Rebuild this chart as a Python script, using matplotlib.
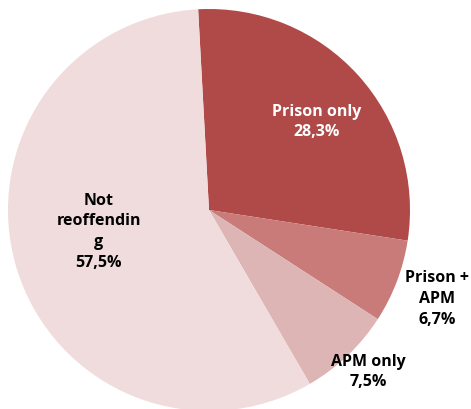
import numpy as np
import matplotlib.pyplot as plt

labels = ['Prison only', 'Prison +\nAPM', 'APM only', 'Not\nreoffendin\ng']
shares = [28.3, 6.7, 7.5, 57.5]
colors = ['#B04A48', '#C97B7A', '#DEB5B5', '#F0DCDC']
text_colors = ['white', 'black', 'black', 'black']
# radial distance (fraction of radius) and angular nudge (degrees) per label
label_dist = [0.69, 1.22, 1.13, 0.56]
label_shift = [-2.8, -0.5, 0.9, -5.4]

plt.rcParams['font.family'] = ['Open Sans', 'DejaVu Sans']

fig = plt.figure(figsize=(4.71, 4.09), dpi=100)
ax = fig.add_axes([0, 0, 1, 1])

cx, cy, R = 209, 199, 201
wedges, _ = ax.pie(shares, colors=colors, startangle=93.1, counterclock=False,
                   center=(cx, cy), radius=R, frame=True,
                   wedgeprops=dict(linewidth=0))
ax.set_xlim(0, 471)
ax.set_ylim(0, 409)
ax.set_aspect('equal')
ax.axis('off')

for w, lab, val, tc, d, s in zip(wedges, labels, shares, text_colors,
                                 label_dist, label_shift):
    mid = np.deg2rad((w.theta1 + w.theta2) / 2 + s)
    x = cx + d * R * np.cos(mid)
    y = cy + d * R * np.sin(mid)
    txt = lab + '\n' + f'{val:.1f}%'.replace('.', ',')
    ax.text(x, y, txt, ha='center', va='center', color=tc,
            fontsize=11.5, fontweight='bold', linespacing=1.4)

fig.savefig('out.png', dpi=100)
